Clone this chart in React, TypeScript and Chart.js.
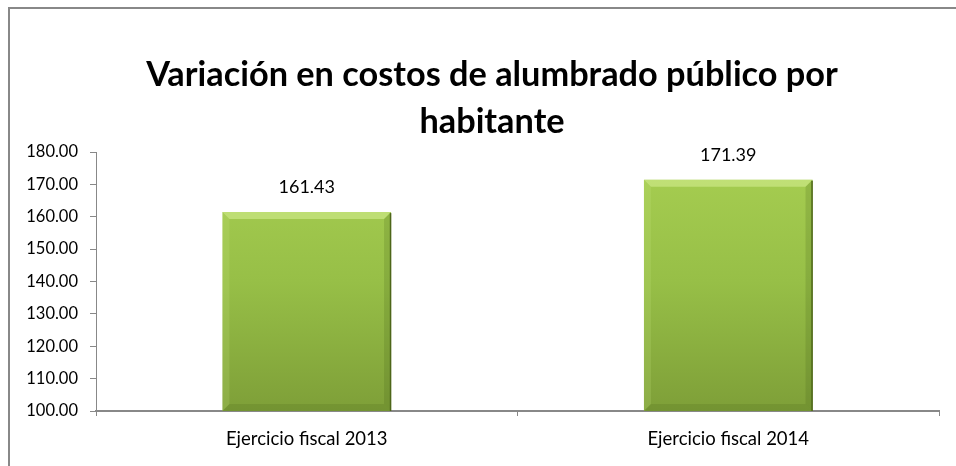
import React, { useEffect, useRef } from "react";
import { Chart, registerables } from "chart.js";

Chart.register(...registerables);

const titleLines = ["Variación en costos de alumbrado público por", "habitante"];
const categories = ["Ejercicio fiscal 2013", "Ejercicio fiscal 2014"];
const values = [161.43, 171.39];
const yMin = 100;
const yMax = 180;
const yStep = 10;

const FONT = "Lato, 'Noto Sans', sans-serif";

const framePlugin = {
  id: "frame",
  beforeDraw(chart: any) {
    const ctx = chart.ctx;
    ctx.save();
    ctx.fillStyle = "#ffffff";
    ctx.fillRect(0, 0, chart.width, chart.height);
    ctx.strokeStyle = "#888888";
    ctx.lineWidth = 2;
    ctx.strokeRect(9, 8, chart.width + 20, chart.height + 20);
    ctx.fillStyle = "#000000";
    ctx.font = `bold 34.3px ${FONT}`;
    ctx.textAlign = "center";
    ctx.textBaseline = "middle";
    titleLines.forEach((line, i) => {
      ctx.fillText(line, 492, 75 + i * 47);
    });
    ctx.restore();
  },
};

const bevelPlugin = {
  id: "bevel",
  afterDatasetsDraw(chart: any) {
    const ctx = chart.ctx;
    const meta = chart.getDatasetMeta(0);
    const area = chart.chartArea;
    ctx.save();
    meta.data.forEach((bar: any, i: number) => {
      const p = bar.getProps(["x", "y", "base", "width"], true);
      const l = p.x - p.width / 2;
      const r = p.x + p.width / 2;
      const t = p.y;
      const b = Math.min(p.base, area.bottom);
      const d = 7;
      ctx.fillStyle = "rgba(215,240,150,0.55)";
      ctx.beginPath();
      ctx.moveTo(l, t);
      ctx.lineTo(r, t);
      ctx.lineTo(r - d, t + d);
      ctx.lineTo(l + d, t + d);
      ctx.closePath();
      ctx.fill();
      ctx.fillStyle = "rgba(200,230,130,0.2)";
      ctx.beginPath();
      ctx.moveTo(l, t);
      ctx.lineTo(l + d, t + d);
      ctx.lineTo(l + d, b - d);
      ctx.lineTo(l, b);
      ctx.closePath();
      ctx.fill();
      ctx.fillStyle = "rgba(60,90,20,0.18)";
      ctx.beginPath();
      ctx.moveTo(r, t);
      ctx.lineTo(r, b);
      ctx.lineTo(r - d, b - d);
      ctx.lineTo(r - d, t + d);
      ctx.closePath();
      ctx.fill();
      ctx.fillStyle = "rgba(60,90,20,0.16)";
      ctx.beginPath();
      ctx.moveTo(l, b);
      ctx.lineTo(r, b);
      ctx.lineTo(r - d, b - d);
      ctx.lineTo(l + d, b - d);
      ctx.closePath();
      ctx.fill();
      ctx.strokeStyle = "#4d6619";
      ctx.lineWidth = 1.5;
      ctx.beginPath();
      ctx.moveTo(r - 0.5, t + 1);
      ctx.lineTo(r - 0.5, b);
      ctx.stroke();
      ctx.fillStyle = "#000000";
      ctx.font = `18px ${FONT}`;
      ctx.textAlign = "center";
      ctx.textBaseline = "middle";
      ctx.fillText(values[i].toFixed(2), p.x, t - 25);
    });
    ctx.restore();
  },
};

export default function App() {
  const ref = useRef<HTMLCanvasElement | null>(null);

  useEffect(() => {
    document.body.style.margin = "0";
    const canvas = ref.current;
    if (!canvas) return;
    const chart = new Chart(canvas, {
      type: "bar",
      data: {
        labels: categories,
        datasets: [
          {
            data: values,
            barPercentage: 0.8,
            categoryPercentage: 0.5,
            backgroundColor: (c: any) => {
              const area = c.chart.chartArea;
              if (!area) return "#93b944";
              const g = c.chart.ctx.createLinearGradient(0, area.top, 0, area.bottom);
              g.addColorStop(0, "#a8cf52");
              g.addColorStop(0.5, "#97bf47");
              g.addColorStop(1, "#7e9f38");
              return g;
            },
            borderWidth: 0,
          },
        ],
      },
      options: {
        responsive: false,
        animation: false,
        layout: { padding: { left: 10, right: 17, top: 152, bottom: 0 } },
        plugins: {
          legend: { display: false },
          tooltip: { enabled: false },
          title: { display: false },
        },
        scales: {
          x: {
            grid: {
              offset: true,
              drawOnChartArea: false,
              tickLength: 5,
              color: "#888888",
            },
            border: { color: "#888888", width: 2 },
            ticks: {
              color: "#000000",
              font: { family: FONT, size: 18.5 },
              padding: 12,
            },
            afterFit: (s: any) => {
              s.height = 55;
            },
          },
          y: {
            min: yMin,
            max: yMax,
            grid: {
              drawOnChartArea: false,
              tickLength: 6,
              color: "#888888",
            },
            border: { color: "#888888", width: 1 },
            ticks: {
              stepSize: yStep,
              color: "#000000",
              font: { family: FONT, size: 16.5 },
              padding: 12,
              callback: (v: any) => Number(v).toFixed(2),
            },
            afterFit: (s: any) => {
              s.width = 86;
            },
          },
        },
      },
      plugins: [framePlugin, bevelPlugin],
    });
    return () => chart.destroy();
  }, []);

  return (
    <div style={{ position: "fixed", left: 0, top: 0, width: 956, height: 466 }}>
      <canvas ref={ref} width={956} height={466} style={{ display: "block" }} />
    </div>
  );
}
